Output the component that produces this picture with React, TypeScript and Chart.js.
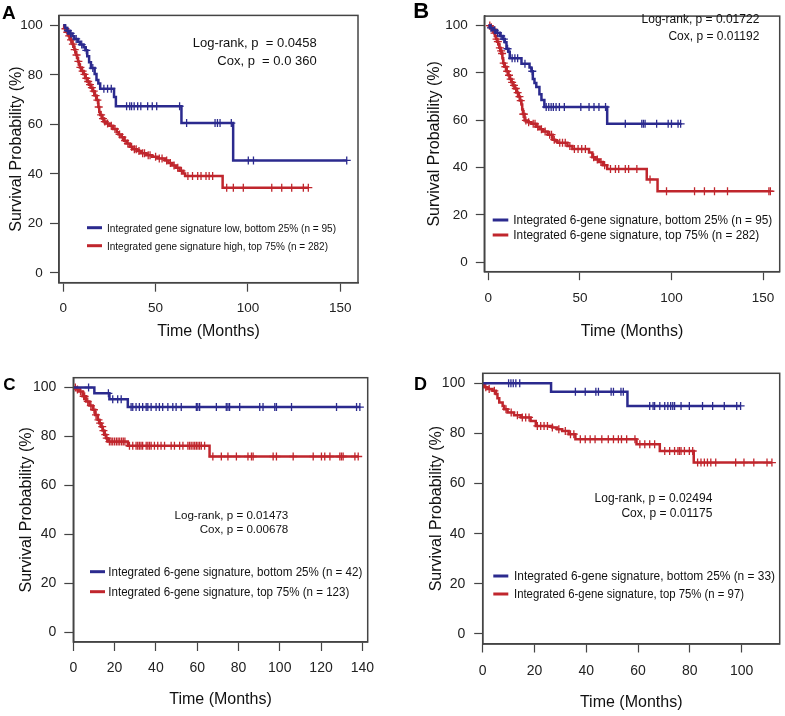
import React, { useEffect, useRef } from "react";
import { Chart, registerables } from "chart.js";
Chart.register(...registerables);

const FONT = "'Liberation Sans', Arial, Helvetica, sans-serif";
const BLUE = "#2B2A8E";
const RED = "#C0262D";

// ---------- Panel A ----------
const aLowTime = [0, 1, 2, 3, 5, 6, 8, 9, 11, 12, 13, 14, 15, 17, 18, 19, 20, 27.5, 28.5, 64, 92];
const aLowSurv = [100, 98.9, 97.8, 96.7, 95.6, 94.5, 93.4, 92.2, 91.1, 89.9, 87.5, 85.1, 82.7, 80.3, 77.9, 76.5, 74.4, 71, 67.3, 60.5, 45.4];
const aLowCensor = [2.5, 4, 7, 10, 12.5, 16, 22, 24, 26, 34.3, 36, 37, 38.4, 40.3, 42, 45.7, 48.2, 50.6, 63, 66.8, 82.2, 83.5, 84.9, 91, 100.2, 103, 153.5];
const aHighTime = [0, 0.5, 1, 1.5, 2, 2.5, 3, 3.5, 4, 4.5, 5, 5.5, 6, 6.5, 7, 7.5, 8, 8.5, 9, 10, 11, 12, 13, 14, 15, 16, 17, 18, 19, 19.5, 20, 21, 22, 23, 25, 27, 29, 30, 31.5, 33, 34.5, 36, 37.5, 40, 42, 45, 48, 51, 55, 57, 59, 61, 63, 65, 66, 86.3];
const aHighSurv = [100, 99.3, 98.6, 97.9, 97.2, 96.5, 95.7, 94.9, 94.1, 93.4, 92.4, 91.3, 90.2, 89.1, 88, 86.8, 85.4, 84.2, 83, 81.5, 80.2, 78.6, 77.3, 76, 74.8, 73.4, 71.6, 69.8, 67, 65, 63.8, 62.3, 61.1, 60.3, 59.4, 58.1, 56.8, 55.9, 54.8, 53.4, 52.2, 50.9, 49.9, 49.2, 48.3, 47.5, 46.9, 46.2, 45.4, 44.4, 43.4, 42.4, 41.2, 40.1, 39.1, 34.4];
const aHighCensor = [1.2, 2.2, 3.2, 4.2, 5.2, 6.2, 7.2, 8.2, 9.3, 10.5, 11.5, 12.5, 13.5, 14.5, 15.5, 16.5, 17.5, 18.5, 19.2, 20.5, 21.5, 22.5, 24, 26, 28, 30.5, 32, 33.5, 35, 37, 38.5, 39.5, 41, 43, 44, 46, 47, 50, 52, 53.5, 56, 58, 60, 62, 64, 67.5, 70, 72.8, 74.6, 77.3, 79, 80.9, 88.5, 92.1, 97.5, 112.9, 118.3, 123.7, 130, 132.7];

// ---------- Panel B ----------
const bLowTime = [0, 1, 2.7, 4, 6.3, 8, 9, 9.9, 11, 11.7, 18.1, 22.5, 23.5, 24.3, 25.2, 26.2, 27.9, 29, 30.6, 64.9];
const bLowSurv = [100, 99, 98, 97, 95.6, 94.3, 92.9, 90.2, 88.9, 86.2, 83.9, 82.3, 80.7, 77.4, 75.7, 74, 71, 68.6, 65.6, 58.5];
const bLowCensor = [1.5, 3.5, 5, 7, 8.5, 10.5, 13, 14.5, 16, 20, 24, 31.6, 33, 34.3, 35.5, 37, 38.8, 41.5, 50.5, 55, 57.7, 60.4, 64, 74.8, 83.8, 84.7, 85.6, 91.9, 98.2, 100, 103.6, 105];
const bHighTime = [0, 1, 2, 2.7, 3.2, 3.6, 4.2, 4.8, 5.4, 6, 6.6, 7.2, 7.7, 8.1, 8.8, 9.9, 10.8, 11.7, 12.6, 13.5, 14.4, 15.3, 16.2, 17.2, 18.1, 18.5, 18.9, 19.8, 21.5, 23.5, 26.2, 28, 29.7, 32.4, 35.1, 36.5, 37.8, 43.2, 45.9, 55, 56.8, 58.5, 60.4, 62.5, 64.9, 86.5, 92.4];
const bHighSurv = [100, 99.3, 98.6, 98, 96.8, 95.6, 94.3, 93.2, 92.2, 90.6, 89.3, 88.2, 86.2, 84.1, 82.6, 80.7, 79, 77.4, 76, 74.7, 73.4, 71.7, 70, 68.3, 66.6, 64.5, 62.6, 59.9, 59.2, 58.5, 57.2, 56.2, 55.2, 53.9, 51.8, 51.1, 50.5, 49.1, 47.8, 46.4, 44.4, 43.4, 42.4, 41, 39.4, 35, 30];
const bHighCensor = [0.8, 1.6, 2.4, 3.4, 4.5, 5.2, 6.3, 7, 7.5, 8.4, 9.3, 10.3, 11.3, 12.2, 13, 14, 15, 16, 17, 17.7, 19, 19.5, 20.5, 22, 24.5, 25.5, 27, 29, 31, 33.5, 34.5, 36, 39, 40.5, 42, 44.5, 47, 49, 51, 53, 57.5, 59.5, 61.5, 63.5, 66.7, 69.4, 71.2, 74.8, 76.6, 81.1, 88.3, 97.3, 112.6, 118, 123.5, 130.6, 153.2, 154];

// ---------- Panel C ----------
const cLowTime = [0, 10.2, 17.5, 26.4];
const cLowSurv = [100, 97.6, 95.2, 92];
const cLowCensor = [7.4, 17, 19.1, 21.5, 23.2, 28, 28.8, 30.4, 32, 33.6, 35.3, 36.1, 37.7, 40.1, 41.7, 43.3, 45.8, 48.2, 49.8, 52.3, 59.6, 60.3, 61.2, 69.3, 74.1, 74.9, 75.7, 80.6, 90.3, 91.9, 97.6, 98.4, 105.7, 127.5, 137.2, 138.8];
const cHighTime = [0, 1.5, 2.9, 4.5, 6.2, 7.8, 9.4, 10.6, 11.8, 12.6, 13.4, 14.2, 15, 15.9, 16.7, 26.4, 66];
const cHighSurv = [100, 99.2, 98.4, 96.4, 94.3, 92.6, 90.9, 88.8, 86.8, 85.4, 84, 82.4, 80.7, 79.3, 77.9, 76.2, 71.8];
const cHighCensor = [1, 2, 3.5, 5, 5.5, 7, 8.5, 10, 11, 12.2, 13, 14, 14.6, 15.5, 16.2, 17.5, 18.3, 19.1, 20, 20.9, 21.7, 22.5, 23.4, 24.2, 25, 27.2, 28.8, 30.4, 31.2, 32, 32.8, 33.6, 35.3, 36.1, 36.9, 37.7, 39.3, 40.9, 42.5, 44.2, 47.4, 49, 51.5, 53.1, 55.5, 56.3, 57.1, 58, 58.8, 59.6, 60.4, 61.2, 62, 63.6, 67.6, 71.7, 74.9, 79, 84.6, 86.3, 87.1, 96.8, 98.4, 106.5, 116.2, 120.2, 121.8, 124.3, 129.1, 129.9, 130.7, 136.4, 138];

// ---------- Panel D ----------
const dLowTime = [0, 26.4, 55.9];
const dLowSurv = [100, 96.6, 91];
const dLowCensor = [10, 10.9, 11.8, 12.8, 14.3, 35.8, 39.6, 43.7, 44.7, 49.6, 50.5, 53.4, 54.3, 64.5, 65.8, 66.4, 68.4, 70.3, 71.5, 72.6, 73.4, 74.1, 76.6, 79.8, 84.9, 88.8, 93.3, 98.1, 99.6];
const dHighTime = [0, 0.6, 1.9, 3.8, 5.1, 5.7, 6.4, 7.7, 8.3, 9.6, 12.1, 14.7, 18.5, 20.5, 26.8, 28.7, 30.7, 33.2, 35.8, 59.4, 68.4, 81.5];
const dHighSurv = [100, 98.4, 97.7, 97, 95.7, 94, 92.4, 91, 89.7, 88.4, 87.3, 86.4, 85, 83, 82.4, 81.7, 81, 79.7, 77.7, 75.7, 73, 68.4];
const dHighCensor = [1.2, 2.5, 4.5, 9, 11, 13.4, 15.3, 16.6, 17.9, 21.1, 22.4, 23.7, 25, 26.9, 29.4, 31.9, 33.9, 35.2, 37.7, 39.6, 41.5, 43.4, 46, 48.5, 50.5, 52.4, 53.6, 55.6, 58.8, 60.7, 62.6, 64.5, 66.4, 70.3, 72.2, 74.1, 75.4, 76, 76.6, 77.9, 79.8, 81.1, 83, 84.3, 85.6, 86.8, 88.1, 90, 97.7, 100.9, 104.7, 109.8, 111.7];

const yTicks = [0, 20, 40, 60, 80, 100];
const xTicksAB = [0, 50, 100, 150];
const xTicksC = [0, 20, 40, 60, 80, 100, 120, 140];
const xTicksD = [0, 20, 40, 60, 80, 100];

function stepAt(ts: number[], ss: number[], t: number) {
  let s = ss[0];
  for (let i = 0; i < ts.length; i++) if (ts[i] <= t) s = ss[i];
  return s;
}
function lineData(ts: number[], ss: number[], cens: number[]) {
  const pts = ts.map((t, i) => ({ x: t, y: ss[i] }));
  const last = Math.max(ts[ts.length - 1], ...cens);
  pts.push({ x: last, y: ss[ss.length - 1] });
  return pts;
}
function censorData(ts: number[], ss: number[], cens: number[]) {
  return cens.map((t) => ({ x: t, y: stepAt(ts, ss, t) }));
}

const panels: any[] = [
  {
    letter: "A", letterSize: 19, letterX: 2, letterY: 18.5,
    left: 0, top: 0, width: 390, height: 345,
    area: { left: 59, top: 14, right: 358, bottom: 282.7 },
    xMin: -2.3, xMax: 159.6, xTicks: xTicksAB,
    tickFont: 13.5, tickLen: 9, yTickPad: 7.3, xTickPad: 8.5, xTitlePad: 3.7, yTitlePad: 7.4,
    stats: ["Log-rank, p  = 0.0458", "Cox, p  = 0.0 360"], statsX: 316.7, statsY: [46.7, 65], statsFont: 13,
    legend: { x1: 87, x2: 102, textX: 107, lineY: [227.7, 245.7], textY: [231.7, 250], font: 11.5, maxW: [229, 221] },
    low: { t: aLowTime, s: aLowSurv, c: aLowCensor, label: "Integrated gene signature low, bottom 25% (n = 95)" },
    high: { t: aHighTime, s: aHighSurv, c: aHighCensor, label: "Integrated gene signature high, top 75% (n = 282)" },
  },
  {
    letter: "B", letterSize: 22, letterX: 23.3, letterY: 18.3,
    left: 390, top: 0, width: 395, height: 345,
    area: { left: 94.3, top: 4, right: 392.7, bottom: 271.7 },
    xMin: -2.2, xMax: 159.1, xTicks: xTicksAB,
    tickFont: 13.5, tickLen: 8.5, yTickPad: 8, xTickPad: 10, xTitlePad: 3.7, yTitlePad: 35.4,
    stats: ["Log-rank, p = 0.01722", "Cox, p = 0.01192"], statsX: 369.3, statsY: [23.3, 40], statsFont: 12,
    legend: { x1: 102.7, x2: 118.3, textX: 123.3, lineY: [220, 235], textY: [223.8, 239.3], font: 12, maxW: [259, 246] },
    low: { t: bLowTime, s: bLowSurv, c: bLowCensor, label: "Integrated 6-gene signature, bottom 25% (n = 95)" },
    high: { t: bHighTime, s: bHighSurv, c: bHighCensor, label: "Integrated 6-gene signature, top 75% (n = 282)" },
  },
  {
    letter: "C", letterSize: 17, letterX: 3.3, letterY: 45,
    left: 0, top: 345, width: 390, height: 371,
    area: { left: 73.3, top: 32.7, right: 367.7, bottom: 297 },
    xMin: 0, xMax: 142.6, xTicks: xTicksC,
    tickFont: 14, tickLen: 9, yTickPad: 8, xTickPad: 8.3, xTitlePad: 6.4, yTitlePad: 17.1,
    stats: ["Log-rank, p = 0.01473", "Cox, p = 0.00678"], statsX: 288.3, statsY: [174.3, 188.3], statsFont: 11.6,
    legend: { x1: 90, x2: 105, textX: 108.3, lineY: [226.7, 246.7], textY: [231, 251], font: 12, maxW: [254, 241] },
    low: { t: cLowTime, s: cLowSurv, c: cLowCensor, label: "Integrated 6-gene signature, bottom 25% (n = 42)" },
    high: { t: cHighTime, s: cHighSurv, c: cHighCensor, label: "Integrated 6-gene signature, top 75% (n = 123)" },
  },
  {
    letter: "D", letterSize: 18, letterX: 24, letterY: 45,
    left: 390, top: 345, width: 395, height: 371,
    area: { left: 92.7, top: 28.3, right: 392.7, bottom: 299 },
    xMin: 0, xMax: 114.7, xTicks: xTicksD,
    tickFont: 14, tickLen: 8.5, yTickPad: 9, xTickPad: 10.1, xTitlePad: 3.7, yTitlePad: 37.1,
    stats: ["Log-rank, p = 0.02494", "Cox, p = 0.01175"], statsX: 322.3, statsY: [156.7, 172.3], statsFont: 12,
    legend: { x1: 103.3, x2: 118.3, textX: 124, lineY: [231, 249], textY: [235, 253.3], font: 12, maxW: [261, 230] },
    low: { t: dLowTime, s: dLowSurv, c: dLowCensor, label: "Integrated 6-gene signature, bottom 25% (n = 33)" },
    high: { t: dHighTime, s: dHighSurv, c: dHighCensor, label: "Integrated 6-gene signature, top 75% (n = 97)" },
  },
];

function Panel({ cfg }: { cfg: any }) {
  const ref = useRef<HTMLCanvasElement | null>(null);
  useEffect(() => {
    const annot = {
      id: "annot",
      afterDraw(chart: any) {
        const ctx = chart.ctx;
        const { left, top, right, bottom } = chart.chartArea;
        ctx.save();
        ctx.strokeStyle = "#444";
        ctx.lineWidth = 1.5;
        ctx.strokeRect(left, top, right - left, bottom - top);
        ctx.fillStyle = "#000";
        ctx.textAlign = "left";
        ctx.textBaseline = "alphabetic";
        ctx.font = `bold ${cfg.letterSize}px ${FONT}`;
        ctx.fillText(cfg.letter, cfg.letterX, cfg.letterY);
        ctx.fillStyle = "#111";
        ctx.font = `${cfg.statsFont}px ${FONT}`;
        ctx.textAlign = "right";
        cfg.stats.forEach((s: string, i: number) => ctx.fillText(s, cfg.statsX, cfg.statsY[i]));
        const lg = cfg.legend;
        const items = [
          { label: cfg.low.label, color: BLUE },
          { label: cfg.high.label, color: RED },
        ];
        ctx.textAlign = "left";
        ctx.font = `${lg.font}px ${FONT}`;
        items.forEach((it, i) => {
          ctx.strokeStyle = it.color;
          ctx.lineWidth = 3;
          ctx.beginPath();
          ctx.moveTo(lg.x1, lg.lineY[i]);
          ctx.lineTo(lg.x2, lg.lineY[i]);
          ctx.stroke();
          ctx.fillStyle = "#111";
          ctx.fillText(it.label, lg.textX, lg.textY[i], lg.maxW[i]);
        });
        ctx.restore();
      },
    };
    const a = cfg.area;
    const chart = new Chart(ref.current as HTMLCanvasElement, {
      type: "line",
      data: {
        datasets: [
          {
            type: "scatter", label: "low censored", data: censorData(cfg.low.t, cfg.low.s, cfg.low.c),
            pointStyle: "cross", pointRadius: 4, borderColor: BLUE, backgroundColor: BLUE, borderWidth: 1.3, showLine: false,
          },
          {
            type: "line", label: cfg.low.label, data: lineData(cfg.low.t, cfg.low.s, cfg.low.c),
            stepped: "before", borderColor: BLUE, borderWidth: 2.5, pointRadius: 0, fill: false,
          },
          {
            type: "scatter", label: "high censored", data: censorData(cfg.high.t, cfg.high.s, cfg.high.c),
            pointStyle: "cross", pointRadius: 4, borderColor: RED, backgroundColor: RED, borderWidth: 1.3, showLine: false,
          },
          {
            type: "line", label: cfg.high.label, data: lineData(cfg.high.t, cfg.high.s, cfg.high.c),
            stepped: "before", borderColor: RED, borderWidth: 2.5, pointRadius: 0, fill: false,
          },
        ] as any,
      },
      options: {
        animation: false,
        responsive: false,
        devicePixelRatio: 1,
        layout: { padding: { left: 0, top: a.top, right: cfg.width - a.right, bottom: 0 } },
        plugins: { legend: { display: false }, tooltip: { enabled: false } },
        scales: {
          x: {
            type: "linear", position: "bottom", min: cfg.xMin, max: cfg.xMax,
            afterBuildTicks: (s: any) => { s.ticks = cfg.xTicks.map((v: number) => ({ value: v })); },
            afterFit: (s: any) => { s.height = cfg.height - a.bottom; },
            grid: { display: true, drawOnChartArea: false, drawTicks: true, tickLength: cfg.tickLen, tickColor: "#444", tickWidth: 1.2 },
            border: { display: true, color: "#444", width: 1.5 },
            ticks: { font: { family: FONT, size: cfg.tickFont }, color: "#222", padding: cfg.xTickPad, maxRotation: 0, autoSkip: false },
            title: { display: true, text: "Time (Months)", font: { family: FONT, size: 16 }, color: "#111", padding: cfg.xTitlePad },
          },
          y: {
            type: "linear", position: "left", min: -4, max: 104,
            afterBuildTicks: (s: any) => { s.ticks = yTicks.map((v) => ({ value: v })); },
            afterFit: (s: any) => { s.width = a.left; },
            grid: { display: true, drawOnChartArea: false, drawTicks: true, tickLength: cfg.tickLen, tickColor: "#444", tickWidth: 1.2 },
            border: { display: true, color: "#444", width: 1.5 },
            ticks: { font: { family: FONT, size: cfg.tickFont }, color: "#222", padding: cfg.yTickPad, autoSkip: false },
            title: { display: true, text: "Survival Probability (%)", font: { family: FONT, size: 16 }, color: "#111", padding: cfg.yTitlePad },
          },
        },
      } as any,
      plugins: [annot],
    });
    return () => chart.destroy();
  }, []);
  return (
    <canvas
      ref={ref}
      width={cfg.width}
      height={cfg.height}
      style={{ position: "absolute", left: cfg.left, top: cfg.top, width: cfg.width, height: cfg.height, display: "block" }}
    />
  );
}

export default function App() {
  return (
    <div style={{ position: "absolute", left: 0, top: 0, width: 785, height: 716, background: "#fff", overflow: "hidden" }}>
      {panels.map((p) => (
        <Panel key={p.letter} cfg={p} />
      ))}
    </div>
  );
}
